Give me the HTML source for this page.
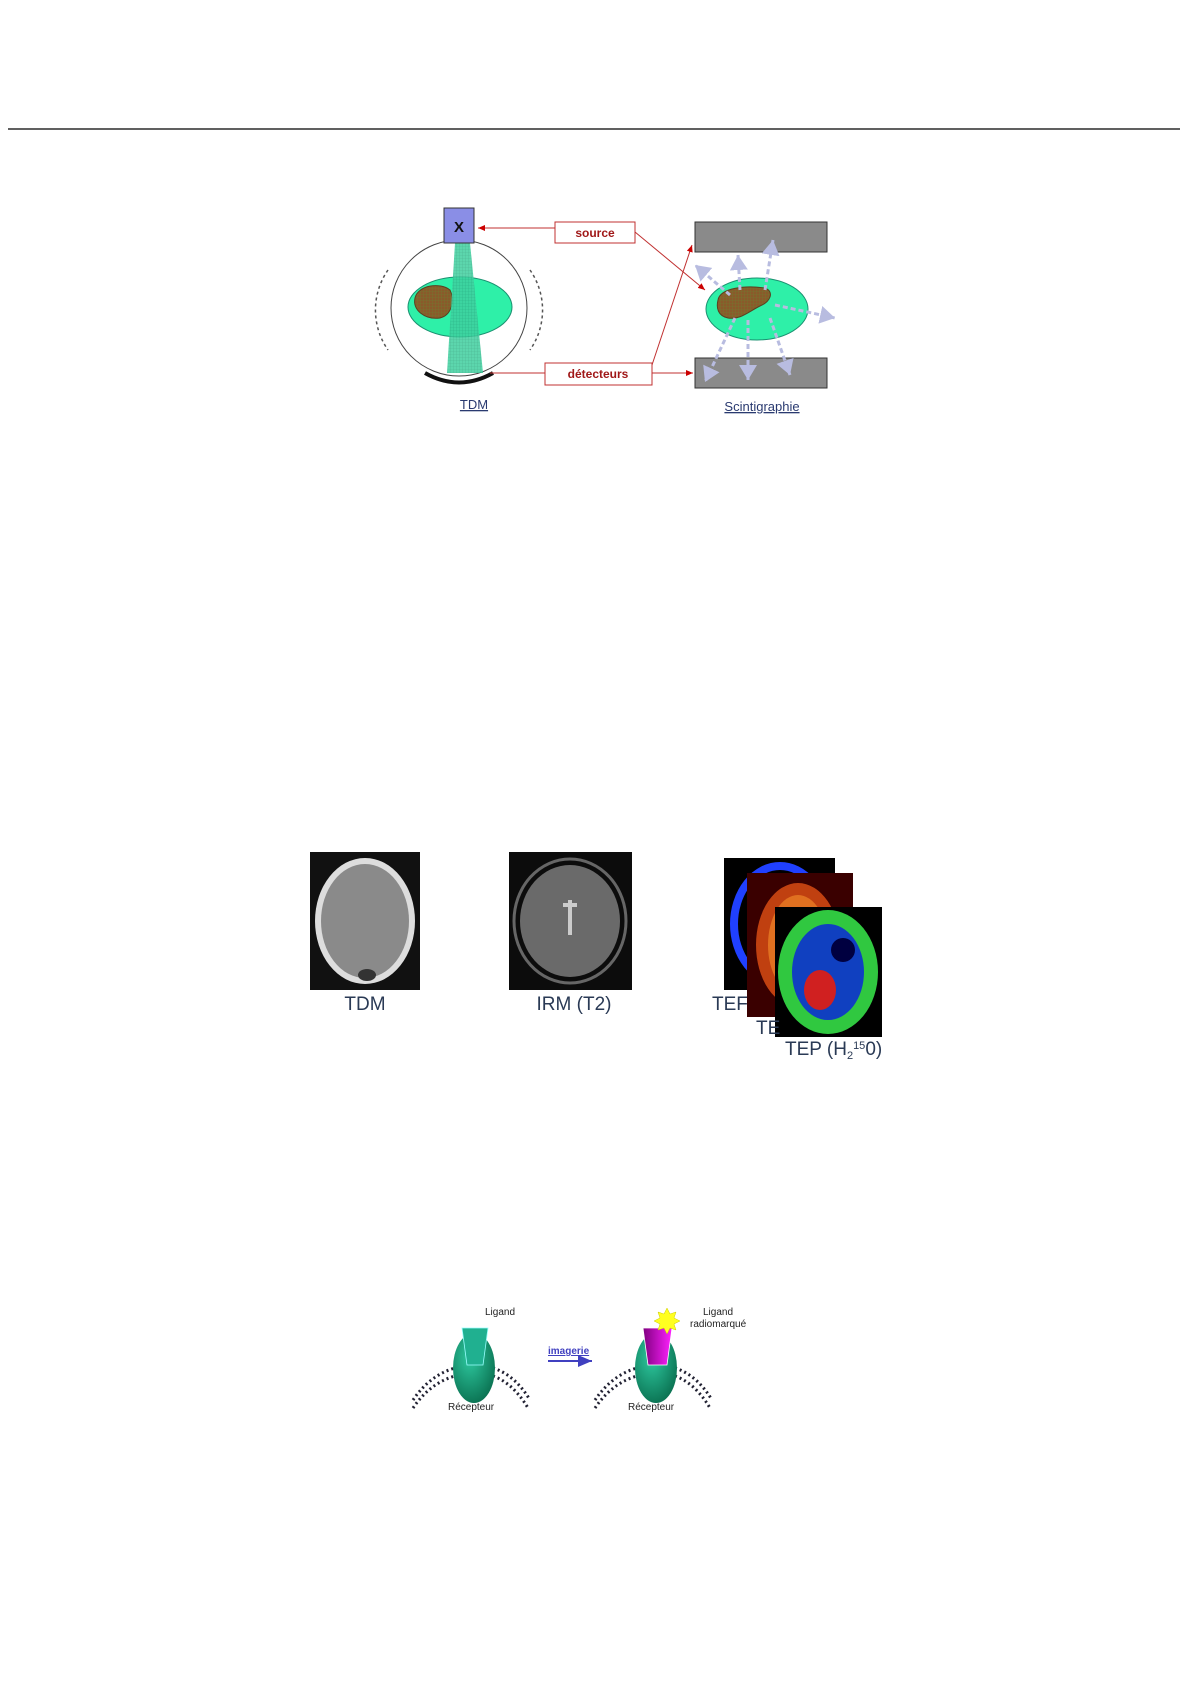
<!DOCTYPE html>
<html><head><meta charset="utf-8"><style>
html,body{margin:0;padding:0;background:#fff;}
svg{display:block;}
text{font-family:"Liberation Sans",sans-serif;}
</style></head><body>
<svg width="1191" height="1684" viewBox="0 0 1191 1684" xmlns="http://www.w3.org/2000/svg">
<defs>
<marker id="ar" markerWidth="8" markerHeight="8" refX="7" refY="4" orient="auto"><path d="M0,1 L7,4 L0,7 z" fill="#c00"/></marker>
<marker id="ab" markerWidth="8" markerHeight="8" refX="7" refY="4" orient="auto"><path d="M0,1 L7,4 L0,7 z" fill="#4040c0"/></marker>
<marker id="ag" markerWidth="6" markerHeight="6" refX="5" refY="3" orient="auto"><path d="M0,0 L5,3 L0,6 z" fill="#b8bce0"/></marker>
<pattern id="grid" width="3" height="3" patternUnits="userSpaceOnUse"><rect width="3" height="3" fill="#3fcf9f"/><path d="M0,0H3M0,0V3" stroke="#2aa880" stroke-width="0.6"/></pattern>
<pattern id="brgrid" width="3" height="3" patternUnits="userSpaceOnUse"><rect width="3" height="3" fill="#8a5a2a"/><path d="M0,0H3M0,0V3" stroke="#6b8030" stroke-width="0.6"/></pattern>
<radialGradient id="rg" cx="0.4" cy="0.35" r="0.7"><stop offset="0" stop-color="#2ec9a0"/><stop offset="1" stop-color="#0a7050"/></radialGradient>
<linearGradient id="mg" x1="0" x2="1"><stop offset="0" stop-color="#800080"/><stop offset="1" stop-color="#ff20ff"/></linearGradient>
</defs>
<line x1="8" y1="129" x2="1180" y2="129" stroke="#000" stroke-width="1.2"/>

<!-- TDM diagram -->
<path d="M388,270 A70,70 0 0 0 388,350" fill="none" stroke="#555" stroke-width="1.5" stroke-dasharray="3,3"/>
<path d="M530,270 A70,70 0 0 1 530,350" fill="none" stroke="#555" stroke-width="1.5" stroke-dasharray="3,3"/>
<circle cx="459" cy="308" r="68" fill="#fff" stroke="#444" stroke-width="1"/>
<ellipse cx="460" cy="307" rx="52" ry="30" fill="#2ef0a8" stroke="#1a9070" stroke-width="1"/>
<path d="M415,298 C418,285 440,282 450,290 C455,300 452,315 440,318 C425,320 412,310 415,298 z" fill="url(#brgrid)" stroke="#5a4020"/>
<path d="M455,243 L470,243 L483,373 L447,373 z" fill="url(#grid)" opacity="0.85"/>
<path d="M425,373 Q459,392 493,373" fill="none" stroke="#111" stroke-width="4"/>
<rect x="444" y="208" width="30" height="35" fill="#8a8ee6" stroke="#333"/>
<text x="459" y="232" font-size="15" font-weight="bold" text-anchor="middle" fill="#111">X</text>

<rect x="555" y="222" width="80" height="21" fill="#fff" stroke="#c03030"/>
<text x="595" y="237" font-size="12" font-weight="bold" text-anchor="middle" fill="#a01818">source</text>
<line x1="555" y1="228" x2="478" y2="228" stroke="#c03030" marker-end="url(#ar)"/>
<line x1="635" y1="232" x2="705" y2="290" stroke="#c03030" marker-end="url(#ar)"/>

<rect x="545" y="363" width="107" height="22" fill="#fff" stroke="#c03030"/>
<text x="598" y="378" font-size="12" font-weight="bold" text-anchor="middle" fill="#a01818">détecteurs</text>
<line x1="490" y1="373" x2="545" y2="373" stroke="#c03030"/>
<line x1="652" y1="373" x2="693" y2="373" stroke="#c03030" marker-end="url(#ar)"/>
<line x1="652" y1="365" x2="692" y2="245" stroke="#c03030" marker-end="url(#ar)"/>

<rect x="695" y="222" width="132" height="30" fill="#8a8a8a" stroke="#333"/>
<rect x="695" y="358" width="132" height="30" fill="#8a8a8a" stroke="#333"/>
<ellipse cx="757" cy="309" rx="51" ry="31" fill="#2ef0a8" stroke="#1a9070"/>
<path d="M718,300 C720,288 745,285 765,288 C775,292 770,302 760,306 C748,312 740,320 728,318 C718,316 716,308 718,300 z" fill="url(#brgrid)" stroke="#5a4020"/>
<g stroke="#b8bce0" stroke-width="3" stroke-dasharray="5,3" marker-end="url(#ag)">
<line x1="740" y1="290" x2="738" y2="255"/>
<line x1="765" y1="290" x2="773" y2="240"/>
<line x1="730" y1="295" x2="695" y2="265"/>
<line x1="775" y1="305" x2="835" y2="318"/>
<line x1="735" y1="318" x2="705" y2="382"/>
<line x1="748" y1="320" x2="748" y2="380"/>
<line x1="770" y1="318" x2="790" y2="375"/>
</g>
<text x="474" y="409" font-size="13" text-anchor="middle" fill="#2a3a70" text-decoration="underline">TDM</text>
<text x="762" y="411" font-size="13" text-anchor="middle" fill="#2a3a70" text-decoration="underline">Scintigraphie</text>

<!-- brain images -->
<rect x="310" y="852" width="110" height="138" fill="#111"/>
<ellipse cx="365" cy="921" rx="50" ry="63" fill="#ddd"/>
<ellipse cx="365" cy="921" rx="44" ry="57" fill="#8a8a8a"/>
<ellipse cx="367" cy="975" rx="9" ry="6" fill="#333"/>
<rect x="509" y="852" width="123" height="138" fill="#0c0c0c"/>
<ellipse cx="570" cy="921" rx="56" ry="62" fill="none" stroke="#666" stroke-width="3"/>
<ellipse cx="570" cy="921" rx="50" ry="56" fill="#6a6a6a"/>
<path d="M563,905 L577,905 M570,900 V935" stroke="#ccc" stroke-width="4"/>
<rect x="724" y="858" width="111" height="132" fill="#000"/>
<ellipse cx="780" cy="924" rx="46" ry="58" fill="none" stroke="#2040ff" stroke-width="8"/>
<rect x="747" y="873" width="106" height="144" fill="#3a0000"/>
<ellipse cx="798" cy="945" rx="42" ry="62" fill="#c04010"/>
<ellipse cx="798" cy="945" rx="30" ry="50" fill="#e07020"/>
<rect x="775" y="907" width="107" height="130" fill="#000"/>
<ellipse cx="828" cy="972" rx="50" ry="62" fill="#30c840"/>
<ellipse cx="828" cy="972" rx="36" ry="48" fill="#1040c0"/>
<ellipse cx="820" cy="990" rx="16" ry="20" fill="#d02020"/>
<ellipse cx="843" cy="950" rx="12" ry="12" fill="#000040"/>
<text x="365" y="1010" font-size="19" text-anchor="middle" fill="#2a3a55">TDM</text>
<text x="574" y="1010" font-size="19" text-anchor="middle" fill="#2a3a55">IRM (T2)</text>
<text x="712" y="1010" font-size="19" fill="#2a3a55">TEF</text>
<text x="756" y="1034" font-size="19" fill="#2a3a55">TE</text>
<text x="785" y="1055" font-size="19" fill="#2a3a55">TEP (H<tspan font-size="11" dy="4">2</tspan><tspan font-size="11" dy="-10">15</tspan><tspan dy="6">0)</tspan></text>

<!-- receptor diagram -->
<g>
<path d="M413,1400 Q430,1375 455,1368" fill="none" stroke="#223" stroke-width="3" stroke-dasharray="2,3"/>
<path d="M413,1408 Q430,1383 455,1376" fill="none" stroke="#223" stroke-width="3" stroke-dasharray="2,3"/>
<path d="M493,1368 Q515,1375 530,1400" fill="none" stroke="#223" stroke-width="3" stroke-dasharray="2,3"/>
<path d="M493,1376 Q513,1383 528,1408" fill="none" stroke="#223" stroke-width="3" stroke-dasharray="2,3"/>
<path d="M595,1400 Q612,1375 637,1368" fill="none" stroke="#223" stroke-width="3" stroke-dasharray="2,3"/>
<path d="M595,1408 Q612,1383 637,1376" fill="none" stroke="#223" stroke-width="3" stroke-dasharray="2,3"/>
<path d="M675,1368 Q697,1375 712,1400" fill="none" stroke="#223" stroke-width="3" stroke-dasharray="2,3"/>
<path d="M675,1376 Q695,1383 710,1408" fill="none" stroke="#223" stroke-width="3" stroke-dasharray="2,3"/>
</g>
<ellipse cx="474" cy="1368" rx="21" ry="35" fill="url(#rg)"/>
<path d="M462,1328 L488,1328 L483,1365 L467,1365 z" fill="#20b090" stroke="#9ff" stroke-width="0.8"/>
<ellipse cx="656" cy="1368" rx="21" ry="35" fill="url(#rg)"/>
<path d="M643,1328 L672,1328 L667,1365 L648,1365 z" fill="url(#mg)" stroke="#fff" stroke-width="0.8"/>
<polygon points="667,1308 670,1314 676,1312 674,1318 680,1321 674,1324 676,1330 670,1328 667,1334 664,1328 658,1330 660,1324 654,1321 660,1318 658,1312 664,1314" fill="#ffff20" stroke="#cc0" stroke-width="0.5"/>
<text x="485" y="1315" font-size="10" fill="#222">Ligand</text>
<text x="703" y="1315" font-size="10" fill="#222">Ligand</text>
<text x="690" y="1327" font-size="10" fill="#222">radiomarqué</text>
<text x="448" y="1410" font-size="10" fill="#222">Récepteur</text>
<text x="628" y="1410" font-size="10" fill="#222">Récepteur</text>
<text x="548" y="1354" font-size="10" font-weight="bold" fill="#4040c0" text-decoration="underline">imagerie</text>
<line x1="548" y1="1361" x2="592" y2="1361" stroke="#4040c0" stroke-width="2" marker-end="url(#ab)"/>
</svg>
</body></html>
